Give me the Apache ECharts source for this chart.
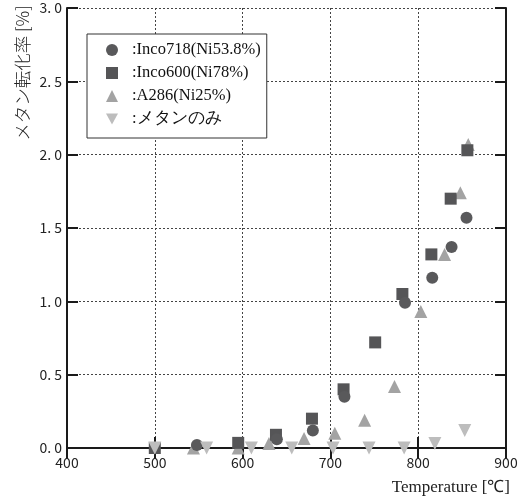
<!DOCTYPE html>
<html>
<head>
<meta charset="utf-8">
<script src="https://cdn.jsdelivr.net/npm/echarts@6/dist/echarts.min.js"></script>
<style>html,body{margin:0;padding:0;background:#fff}#c{width:526px;height:501px}</style>
</head>
<body>
<div id="c"></div>
<script>
// ---- data ----
const xTicks = [400, 500, 600, 700, 800, 900];
const yTicks = [0, 0.5, 1.0, 1.5, 2.0, 2.5, 3.0];
const seriesNames = [':Inco718(Ni53.8%)', ':Inco600(Ni78%)', ':A286(Ni25%)', ':メタンのみ'];
const inco718 = [[548,0.02],[639,0.06],[680,0.12],[716,0.35],[785,0.99],[816,1.16],[838,1.37],[855,1.57]];
const inco600 = [[500,0],[595,0.035],[638,0.09],[679,0.20],[715,0.40],[751,0.72],[782,1.05],[815,1.32],[837,1.70],[856,2.03]];
const a286 = [[544,0],[595,0],[630,0.03],[670,0.065],[705,0.10],[739,0.19],[773,0.42],[803,0.93],[830,1.32],[848,1.74],[857,2.07]];
const methaneOnly = [[500,0],[559,0],[610,0],[656,0],[703,0],[744,0],[784,0],[819,0.03],[853,0.12]];
const xName = 'Temperature [℃]';
const yName = 'メタン転化率 [%]';

const chart = echarts.init(document.getElementById('c'), null, {renderer: 'canvas'});
const axisLine = {show: true, lineStyle: {color: '#1a1a1a', width: 2}};
const tick = {show: true, inside: true, length: 11, lineStyle: {color: '#1a1a1a', width: 2}};
const split = {show: true, lineStyle: {color: '#444', width: 1, type: [2, 2]}};
const tickFont = {fontFamily: 'Noto Sans CJK JP', fontSize: 14, color: '#222'};
const fmt = v => v.toFixed(1).replace('.', '. ');
const downTri = 'path://M0,0 L10,0 L5,9 Z';

chart.setOption({
  animation: false,
  grid: {left: 67, right: 20, top: 8, bottom: 53, containLabel: false},
  legend: {
    left: 87, top: 34, orient: 'vertical',
    data: [
      {name: seriesNames[0], icon: 'circle'},
      {name: seriesNames[1], icon: 'rect'},
      {name: seriesNames[2], icon: 'triangle'},
      {name: seriesNames[3], icon: downTri}
    ],
    backgroundColor: '#fff', borderColor: '#333', borderWidth: 1,
    padding: [7, 6, 10, 19],
    itemWidth: 12, itemHeight: 12, itemGap: 5,
    textStyle: {fontFamily: 'Liberation Serif', fontSize: 16.5, color: '#111', lineHeight: 18, padding: [0, 0, 0, 9]}
  },
  xAxis: [{
    type: 'value', min: xTicks[0], max: xTicks[xTicks.length - 1], interval: 100,
    axisLine, axisTick: tick, splitLine: split,
    axisLabel: Object.assign({margin: 8}, tickFont),
    name: xName, nameLocation: 'end', nameGap: 4,
    nameTextStyle: {fontFamily: 'Liberation Serif', fontSize: 17, color: '#222', align: 'right', verticalAlign: 'top', padding: [31, 0, 0, 0]}
  }, {
    type: 'value', position: 'top', min: xTicks[0], max: xTicks[xTicks.length - 1], interval: 100,
    axisLine, axisTick: tick, splitLine: {show: false}, axisLabel: {show: false}
  }],
  yAxis: [{
    type: 'value', min: yTicks[0], max: yTicks[yTicks.length - 1], interval: 0.5,
    axisLine, axisTick: tick, splitLine: split,
    axisLabel: Object.assign({margin: 5, formatter: fmt}, tickFont)
  }, {
    type: 'value', position: 'right', min: yTicks[0], max: yTicks[yTicks.length - 1], interval: 0.5,
    axisLine, axisTick: tick, splitLine: {show: false}, axisLabel: {show: false}
  }],
  graphic: [{
    type: 'text', x: 22, y: 73, rotation: Math.PI / 2,
    style: {text: yName, fontFamily: 'Noto Sans CJK JP', fontSize: 17.5, fontWeight: 300, fill: '#222', align: 'center', verticalAlign: 'middle'}
  }],
  series: [
    {name: seriesNames[2], type: 'scatter', data: a286, symbol: 'triangle', symbolSize: 13, itemStyle: {color: '#a3a3a3', opacity: 1}},
    {name: seriesNames[1], type: 'scatter', data: inco600, symbol: 'rect', symbolSize: 12, itemStyle: {color: '#555557', opacity: 1}},
    {name: seriesNames[0], type: 'scatter', data: inco718, symbol: 'circle', symbolSize: 12, itemStyle: {color: '#59595b', opacity: 1}},
    {name: seriesNames[3], type: 'scatter', data: methaneOnly, symbol: 'triangle', symbolRotate: 180, symbolSize: 13, itemStyle: {color: '#bdbdbd', opacity: 1}}
  ]
});
</script>
</body>
</html>
